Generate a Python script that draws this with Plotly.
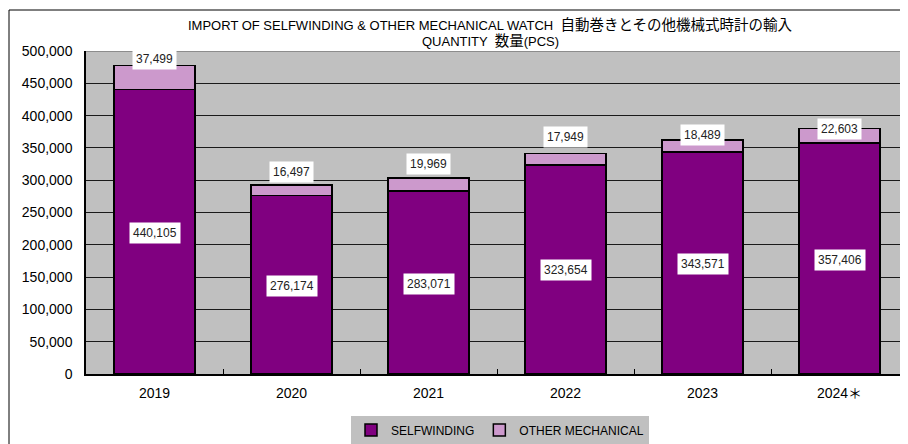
import plotly.graph_objects as go

# ---- data ----
years = ["2019", "2020", "2021", "2022", "2023", "2024＊"]
selfwinding = [440105, 276174, 283071, 323654, 343571, 357406]
other_mechanical = [37499, 16497, 19969, 17949, 18489, 22603]
y_ticks = [0, 50000, 100000, 150000, 200000, 250000, 300000, 350000, 400000, 450000, 500000]
title_en1 = "IMPORT OF SELFWINDING & OTHER MECHANICAL WATCH"
title_jp1 = "自動巻きとその他機械式時計の輸入"
title_en2 = "QUANTITY"
title_jp2 = "数量"
title_tail2 = "(PCS)"

# ---- style ----
FONT = "Liberation Sans, Arial, Noto Sans CJK JP, sans-serif"
other_label_lift = [6, 13, 14, 16, 5, 0]  # pixel lift of the top labels

OFF = 8  # page body margin
PAGE_W, PAGE_H = 908, 444
W, H = PAGE_W - OFF, PAGE_H - OFF
# plot area in page pixels
PL, PT, PR, PB = 86, 51, 908, 374
L, T = PL - OFF, PT - OFF
R = W - (PR - OFF)
B = H - (PB - OFF)
pw, ph = W - L - R, H - T - B


def px_to_paper(px, py):
    return (px - PL) / pw, (PB - py) / ph


totals = [a + b for a, b in zip(selfwinding, other_mechanical)]

fig = go.Figure()
fig.add_trace(go.Bar(
    x=years, y=selfwinding, name="SELFWINDING",
    marker=dict(color="#800080", line=dict(color="#000000", width=1.5)),
    width=0.59,
))
fig.add_trace(go.Bar(
    x=years, y=other_mechanical, name="OTHER MECHANICAL",
    marker=dict(color="#CC99CC", line=dict(color="#000000", width=1.5)),
    width=0.59,
))

annotations = []
for i, yr in enumerate(years):
    annotations.append(dict(
        x=i, y=selfwinding[i] / 2, xref="x", yref="y",
        text=f"{selfwinding[i]:,}", showarrow=False,
        bgcolor="#FFFFFF", borderpad=3, yshift=-1,
        font=dict(family=FONT, size=12, color="#222222"),
    ))
    annotations.append(dict(
        x=i, y=totals[i], xref="x", yref="y",
        text=f"{other_mechanical[i]:,}", showarrow=False,
        bgcolor="#FFFFFF", borderpad=3, yshift=other_label_lift[i],
        font=dict(family=FONT, size=12, color="#222222"),
    ))

jp = '<span style="font-size:14.5px">{}</span>'
tx, ty = px_to_paper(490, 25)
annotations.append(dict(
    x=tx, y=ty, xref="paper", yref="paper",
    text=f"{title_en1}  " + jp.format(title_jp1), showarrow=False,
    xanchor="center", yanchor="middle",
    font=dict(family=FONT, size=13, color="#000000"),
))
tx, ty = px_to_paper(490, 41)
annotations.append(dict(
    x=tx, y=ty, xref="paper", yref="paper",
    text=f"{title_en2}  " + jp.format(title_jp2) + title_tail2, showarrow=False,
    xanchor="center", yanchor="middle",
    font=dict(family=FONT, size=13, color="#000000"),
))

bx0, by0 = px_to_paper(9, PAGE_H + 30)
bx1, by1 = px_to_paper(PAGE_W + 30, 10)
shapes = [
    dict(type="rect", xref="paper", yref="paper", x0=bx0, x1=bx1, y0=by0, y1=by1,
         line=dict(color="#000000", width=1), fillcolor="rgba(0,0,0,0)", layer="below"),
    dict(type="line", xref="paper", yref="y", x0=0, x1=1, y0=500000, y1=500000,
         line=dict(color="#8C8C8C", width=2), layer="above"),
]

lx, ly = px_to_paper(500, 430)
fig.update_layout(
    width=W, height=H,
    margin=dict(l=L, r=R, t=T, b=B, pad=0, autoexpand=False),
    barmode="stack",
    paper_bgcolor="#FFFFFF",
    plot_bgcolor="#C0C0C0",
    font=dict(family=FONT, size=14, color="#000000"),
    showlegend=True,
    legend=dict(
        orientation="h", x=lx, xanchor="center", y=ly, yanchor="middle",
        bgcolor="#C0C0C0", font=dict(family=FONT, size=12, color="#000000"),
        itemwidth=30, traceorder="normal",
    ),
    annotations=annotations,
    shapes=shapes,
    xaxis=dict(
        type="category", showline=True, linecolor="#000000", linewidth=1.5,
        ticks="inside", ticklen=5, tickcolor="#000000", tickson="boundaries",
        showgrid=False, tickfont=dict(family=FONT, size=14, color="#000000"),
        ticklabelstandoff=5, range=[-0.5, 5.5], automargin=False,
    ),
    yaxis=dict(
        range=[0, 500000], tickvals=y_ticks, tickformat=",d",
        showline=True, linecolor="#000000", linewidth=1.5,
        showgrid=True, gridcolor="#1A1A1A", gridwidth=1,
        ticks="", tickfont=dict(family=FONT, size=14, color="#000000"),
        ticklabelstandoff=9, zeroline=False, automargin=False,
    ),
)

fig.write_html("out.html")
